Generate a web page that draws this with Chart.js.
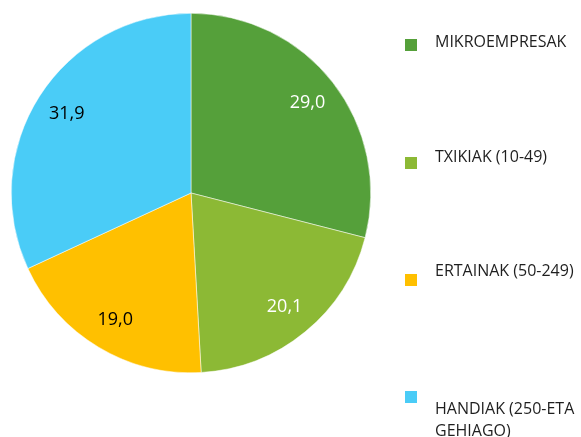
<!DOCTYPE html>
<html>
<head>
<meta charset="utf-8">
<script src="https://cdn.jsdelivr.net/npm/chart.js@4/dist/chart.umd.min.js"></script>
<style>
  html, body { margin: 0; padding: 0; background: #fff; }
  #wrap { width: 581px; height: 437px; position: relative; }
</style>
</head>
<body>
<div id="wrap"><canvas id="ctx-pie"></canvas></div>
<script>
const categories = ['MIKROEMPRESAK', 'TXIKIAK (10-49)', 'ERTAINAK (50-249)', 'HANDIAK (250-ETA GEHIAGO)'];
const legendLines = [['MIKROEMPRESAK'], ['TXIKIAK (10-49)'], ['ERTAINAK (50-249)'], ['HANDIAK (250-ETA', 'GEHIAGO)']];
const shares = [29.0, 20.1, 19.0, 31.9];
const colors = ['#55A03A', '#8CB935', '#FFC000', '#4ACCF7'];
const labelColors = ['#ffffff', '#ffffff', '#000000', '#000000'];

const fontFam = '"Open Sans", "Liberation Sans", sans-serif';

// value labels inside the slices
const sliceLabels = {
    id: 'sliceLabels',
    afterDatasetsDraw(chart) {
        const ctx = chart.ctx;
        const meta = chart.getDatasetMeta(0);
        ctx.save();
        ctx.font = '18px ' + fontFam;
        ctx.textAlign = 'center';
        ctx.textBaseline = 'middle';
        meta.data.forEach((arc, i) => {
            const mid = (arc.startAngle + arc.endAngle) / 2;
            const r = arc.outerRadius * 0.82;
            ctx.fillStyle = labelColors[i];
            ctx.fillText(shares[i].toFixed(1).replace('.', ','), arc.x + Math.cos(mid) * r, arc.y + Math.sin(mid) * r);
        });
        ctx.restore();
    }
};

// legend on the right, spread down the height
const sideLegend = {
    id: 'sideLegend',
    afterDraw(chart) {
        const ctx = chart.ctx;
        const boxY = [45, 163, 280, 397];
        const textY = [42, 157, 271, 409];
        ctx.save();
        ctx.font = '16px ' + fontFam;
        ctx.textBaseline = 'middle';
        legendLines.forEach((lines, i) => {
            ctx.fillStyle = colors[i];
            ctx.fillRect(405, boxY[i] - 6, 12, 12);
            ctx.fillStyle = '#1f1f1f';
            lines.forEach((t, k) => ctx.fillText(t, 435, textY[i] + k * 22));
        });
        ctx.restore();
    }
};

new Chart(document.getElementById('ctx-pie'), {
    type: 'pie',
    data: {
        labels: categories,
        datasets: [{
            data: shares,
            backgroundColor: colors,
            borderColor: '#ffffff',
            borderWidth: 0.5,
            hoverOffset: 0
        }]
    },
    options: {
        responsive: true,
        maintainAspectRatio: false,
        animation: false,
        layout: { padding: { top: 13, bottom: 64, left: 11, right: 210 } },
        plugins: {
            legend: { display: false },
            tooltip: { enabled: false }
        }
    },
    plugins: [sliceLabels, sideLegend]
});
</script>
</body>
</html>
